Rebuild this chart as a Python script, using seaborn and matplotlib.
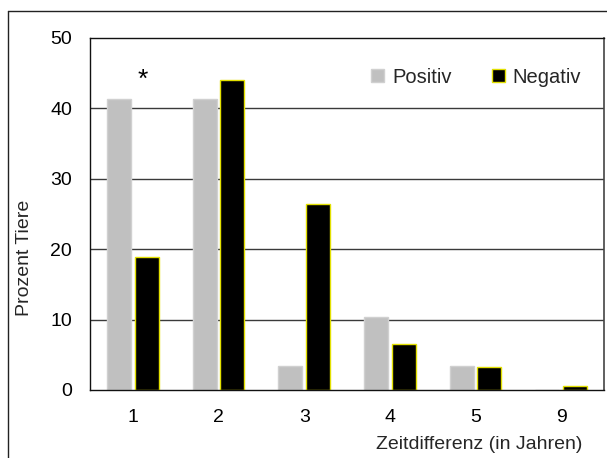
import matplotlib
matplotlib.use("Agg")
import matplotlib.pyplot as plt
from matplotlib.lines import Line2D
import seaborn as sns
import pandas as pd

# Zeitdifferenz-Kategorien und Anteile (Prozent Tiere)
kategorien = ["1", "2", "3", "4", "5", "9"]
positiv = [41.4, 41.4, 3.4, 10.3, 3.4, 0.0]
negativ = [18.9, 44.0, 26.4, 6.6, 3.3, 0.6]
gruppen = ["Positiv", "Negativ"]
y_ticks = [0, 10, 20, 30, 40, 50]

df = pd.DataFrame({
    "Zeit": kategorien * 2,
    "Prozent": positiv + negativ,
    "Gruppe": ["Positiv"] * len(kategorien) + ["Negativ"] * len(kategorien),
})

sns.set_theme(style="white")
plt.rcParams["font.family"] = ["Liberation Sans", "DejaVu Sans"]

FS = 14
W, H = 607, 458
fig = plt.figure(figsize=(W / 100, H / 100), dpi=100)
ax = fig.add_axes([90 / W, 1 - 390 / H, 514 / W, 352 / H])

sns.barplot(
    data=df, x="Zeit", y="Prozent", hue="Gruppe",
    order=kategorien, hue_order=gruppen,
    palette={"Positiv": "#c0c0c0", "Negativ": "#000000"},
    saturation=1, width=0.65, gap=0.14, ax=ax, legend=False,
)

edge = {"Positiv": "#d0d0d0", "Negativ": "#e2e000"}
for cont, g in zip(ax.containers, gruppen):
    for bar in cont:
        bar.set_edgecolor(edge[g])
        bar.set_linewidth(1.0)

ax.set_ylim(0, 50)
ax.set_yticks(y_ticks)
ax.set_xlim(-0.5, len(kategorien) - 0.5)
for v in y_ticks[1:-1]:
    ax.axhline(v, color="#3a3a3a", lw=1.0, zorder=0)

for side in ["top", "left", "bottom"]:
    ax.spines[side].set_color("#111111")
    ax.spines[side].set_linewidth(1.0)
ax.spines["right"].set_color("#444444")
ax.spines["right"].set_linewidth(1.2)

ax.tick_params(axis="both", length=0, labelsize=FS, colors="#000000")
ax.tick_params(axis="y", pad=13)
ax.tick_params(axis="x", pad=14)

ax.set_xlabel("Zeitdifferenz (in Jahren)", fontsize=FS)
ax.xaxis.set_label_coords(0.957, -0.13)
ax.xaxis.label.set_horizontalalignment("right")
ax.set_ylabel("Prozent Tiere", fontsize=FS)
ax.yaxis.set_label_coords(-0.111, 0.375)

# Signifikanzmarke über Kategorie 1
ax.text(0.12, 44.0, "*", ha="center", va="center", fontsize=19, color="black")

leg = ax.legend(
    handles=[ax.containers[0][0], ax.containers[1][0]], labels=gruppen,
    loc="center", bbox_to_anchor=(0.751, 0.889), ncol=2, frameon=False,
    fontsize=14.5, handlelength=0.65, handleheight=0.65, handletextpad=0.4,
    columnspacing=2.0, borderpad=0,
)

# Außenrahmen links und oben
fig.add_artist(Line2D([8 / W, 8 / W], [0, 1 - 11 / H], transform=fig.transFigure,
                      color="#222222", lw=1.0))
fig.add_artist(Line2D([8 / W, 1], [1 - 11 / H, 1 - 11 / H], transform=fig.transFigure,
                      color="#222222", lw=1.0))

fig.savefig("out.png", dpi=100)
